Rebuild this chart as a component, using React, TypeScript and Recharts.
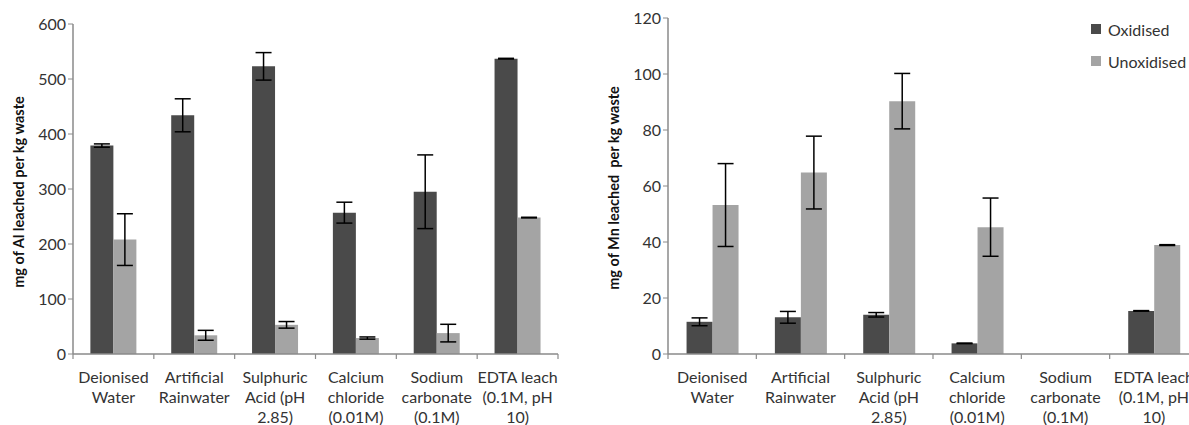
import React from 'react';
import { BarChart, Bar, XAxis, YAxis, ErrorBar } from 'recharts';

const categories = [
  'Deionised\nWater',
  'Artificial\nRainwater',
  'Sulphuric\nAcid (pH\n2.85)',
  'Calcium\nchloride\n(0.01M)',
  'Sodium\ncarbonate\n(0.1M)',
  'EDTA leach\n(0.1M, pH\n10)',
];

const alOxidised = [379, 434, 523, 257, 295, 537];
const alOxidisedErr = [3, 30, 25, 19, 67, 0.6];
const alUnoxidised = [208, 34, 53, 29, 38, 248];
const alUnoxidisedErr = [47, 9, 6, 2, 16, 0.6];

const mnOxidised: (number | null)[] = [11.5, 13.1, 14, 3.8, null, 15.4];
const mnOxidisedErr: (number | null)[] = [1.4, 2.1, 0.8, 0.1, null, 0.1];
const mnUnoxidised: (number | null)[] = [53.2, 64.8, 90.3, 45.3, null, 38.9];
const mnUnoxidisedErr: (number | null)[] = [14.8, 13, 9.9, 10.4, null, 0.15];

const alTicks = [0, 100, 200, 300, 400, 500, 600];
const mnTicks = [0, 20, 40, 60, 80, 100, 120];

const seriesNames = ['Oxidised', 'Unoxidised'];
const DARK = '#4a4a4a';
const LIGHT = '#a4a4a4';
const AXIS = '#8a8a8a';
const TEXT = '#333333';
const FONT = 'Lato, "Open Sans", sans-serif';

const alData = categories.map((c, i) => ({
  cat: c,
  ox: alOxidised[i],
  oxErr: alOxidisedErr[i],
  un: alUnoxidised[i],
  unErr: alUnoxidisedErr[i],
}));

const mnData = categories.map((c, i) => ({
  cat: c,
  ox: mnOxidised[i],
  oxErr: mnOxidisedErr[i],
  un: mnUnoxidised[i],
  unErr: mnUnoxidisedErr[i],
}));

const MultiTick = (props: any) => {
  const { x, y, payload, index, visibleTicksCount } = props;
  const lines = String(payload.value).split('\n');
  const half = typeof payload.offset === 'number' ? payload.offset : 0;
  const count = visibleTicksCount ?? categories.length;
  return (
    <g>
      {half > 0 && (
        <line x1={x - half} x2={x - half} y1={y} y2={y + 5} stroke={AXIS} strokeWidth={1.2} />
      )}
      {half > 0 && index === count - 1 && (
        <line x1={x + half} x2={x + half} y1={y} y2={y + 5} stroke={AXIS} strokeWidth={1.2} />
      )}
      <text x={x} y={y} textAnchor="middle" fill={TEXT} fontSize={16} fontFamily={FONT}>
        {lines.map((l, i) => (
          <tspan key={i} x={x} dy={i === 0 ? 29 : 20}>
            {l}
          </tspan>
        ))}
      </text>
    </g>
  );
};

const YLabel = (text: string, cx: number, cy: number) => () => (
  <text
    x={cx}
    y={cy}
    transform={`rotate(-90, ${cx}, ${cy})`}
    textAnchor="middle"
    dominantBaseline="central"
    fill="#111"
    fontSize={14.5}
    fontWeight="bold"
    fontFamily={FONT}
    style={{ whiteSpace: 'pre' }}
  >
    {text}
  </text>
);

const LegendBox = () => (
  <div style={{ fontFamily: FONT, fontSize: 16, color: TEXT }}>
    {seriesNames.map((n, i) => (
      <div key={n} style={{ display: 'flex', alignItems: 'center', height: 32 }}>
        <span
          style={{
            display: 'inline-block',
            width: 10,
            height: 10,
            background: i === 0 ? DARK : LIGHT,
            marginRight: 7,
          }}
        />
        <span>{n}</span>
      </div>
    ))}
  </div>
);

const tickStyle = { fill: TEXT, fontSize: 16, fontFamily: FONT };

export default function App() {
  return (
    <div
      style={{
        position: 'absolute',
        left: 0,
        top: 0,
        width: 1189,
        height: 425,
        overflow: 'hidden',
        background: '#fff',
      }}
    >
      <div style={{ position: 'absolute', left: 0, top: 0 }}>
        <BarChart
          width={600}
          height={425}
          data={alData}
          margin={{ top: 24, right: 42, bottom: 0, left: 0 }}
          barCategoryGap="21.5%"
          barGap={0}
        >
          <XAxis
            dataKey="cat"
            interval={0}
            tickLine={false}
            tickSize={0}
            tickMargin={0}
            axisLine={{ stroke: AXIS, strokeWidth: 1.5 }}
            tick={<MultiTick />}
            height={71}
          />
          <YAxis
            domain={[0, 600]}
            ticks={alTicks}
            width={73}
            tick={tickStyle}
            tickLine={{ stroke: AXIS }}
            tickSize={5}
            axisLine={{ stroke: AXIS, strokeWidth: 1.5 }}
            label={{ content: YLabel('mg of Al leached per kg waste', 18, 192) }}
          />
          <Bar dataKey="ox" name="Oxidised" fill={DARK} isAnimationActive={false}>
            <ErrorBar dataKey="oxErr" width={8} stroke="#000" strokeWidth={1.5} />
          </Bar>
          <Bar dataKey="un" name="Unoxidised" fill={LIGHT} isAnimationActive={false}>
            <ErrorBar dataKey="unErr" width={8} stroke="#000" strokeWidth={1.5} />
          </Bar>
        </BarChart>
      </div>
      <div style={{ position: 'absolute', left: 590, top: 0 }}>
        <BarChart
          width={640}
          height={425}
          data={mnData}
          margin={{ top: 18, right: 32, bottom: 0, left: 0 }}
          barCategoryGap="21%"
          barGap={0}
        >
          <XAxis
            dataKey="cat"
            interval={0}
            tickLine={false}
            tickSize={0}
            tickMargin={0}
            axisLine={{ stroke: AXIS, strokeWidth: 1.5 }}
            tick={<MultiTick />}
            height={71}
          />
          <YAxis
            domain={[0, 120]}
            ticks={mnTicks}
            width={78}
            tick={tickStyle}
            tickLine={{ stroke: AXIS }}
            tickSize={5}
            axisLine={{ stroke: AXIS, strokeWidth: 1.5 }}
            label={{ content: YLabel('mg of Mn leached  per kg waste', 23, 188) }}
          />
          <Bar dataKey="ox" name="Oxidised" fill={DARK} isAnimationActive={false}>
            <ErrorBar dataKey="oxErr" width={8} stroke="#000" strokeWidth={1.5} />
          </Bar>
          <Bar dataKey="un" name="Unoxidised" fill={LIGHT} isAnimationActive={false}>
            <ErrorBar dataKey="unErr" width={8} stroke="#000" strokeWidth={1.5} />
          </Bar>
        </BarChart>
        <div style={{ position: 'absolute', left: 501, top: 13 }}>
          <LegendBox />
        </div>
      </div>
    </div>
  );
}
